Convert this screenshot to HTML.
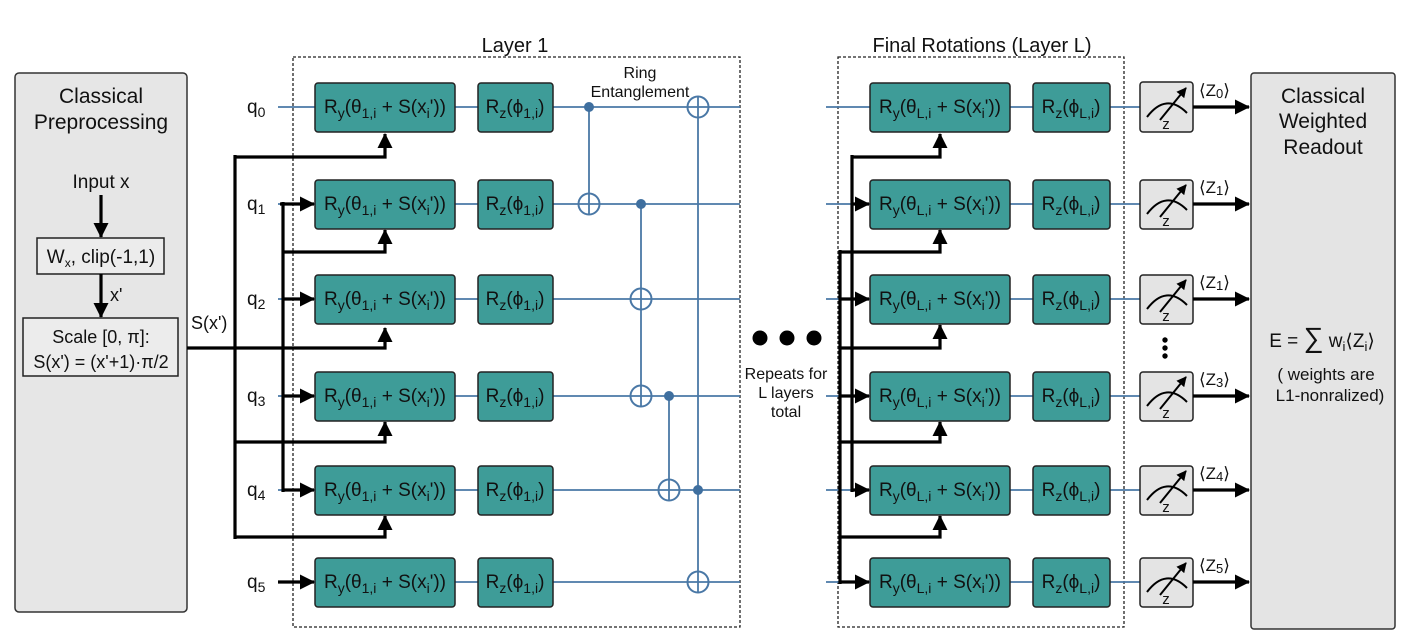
<!DOCTYPE html>
<html><head><meta charset="utf-8"><style>
html,body{margin:0;padding:0;background:#fff}
svg{display:block}
text{font-family:"Liberation Sans",sans-serif;fill:#111}
.ry{fill:#3e9c98;stroke:#222;stroke-width:1.5}
.w{stroke:#4a78a6;stroke-width:1.8;fill:none}
.b{stroke:#000;stroke-width:3.2;fill:none}
.t{fill:none;stroke:#4a78a6;stroke-width:2}
.g{font-size:19px}
.m{fill:#e4e4e4;stroke:#222;stroke-width:1.5}
</style></head><body>
<svg width="1408" height="642" viewBox="0 0 1408 642" xmlns="http://www.w3.org/2000/svg">
<defs>
<marker id="ah" markerWidth="10" markerHeight="10" refX="9" refY="5" orient="auto" markerUnits="userSpaceOnUse" viewBox="0 0 10 10"><path d="M0,0 L10,5 L0,10 z" fill="#000"/></marker>
<marker id="ah2" markerWidth="15" markerHeight="15" refX="14" refY="7.5" orient="auto" markerUnits="userSpaceOnUse" viewBox="0 0 15 15"><path d="M0,0 L15,7.5 L0,15 z" fill="#000"/></marker>
</defs>

<!-- left panel -->
<rect x="15" y="73" width="172" height="539" rx="4" fill="#e6e6e6" stroke="#333" stroke-width="1.5"/>
<text x="101" y="103" font-size="21" text-anchor="middle">Classical</text>
<text x="101" y="129" font-size="21" text-anchor="middle">Preprocessing</text>
<text x="101" y="188" font-size="19" text-anchor="middle">Input x</text>
<line x1="101" y1="195" x2="101" y2="237" class="b" marker-end="url(#ah2)"/>
<rect x="37" y="238" width="127" height="36" fill="#ececec" stroke="#222" stroke-width="1.5"/>
<text x="101" y="263" font-size="19" text-anchor="middle">W<tspan font-size="12" dy="4">x</tspan><tspan dy="-4">, clip(-1,1)</tspan></text>
<line x1="101" y1="274" x2="101" y2="317" class="b" marker-end="url(#ah2)"/>
<text x="110" y="301" font-size="18">x'</text>
<rect x="23" y="318" width="155" height="58" fill="#ececec" stroke="#222" stroke-width="1.5"/>
<text x="101" y="343" font-size="18" text-anchor="middle">Scale [0, π]:</text>
<text x="101" y="368" font-size="18" text-anchor="middle">S(x') = (x'+1)·π/2</text>
<text x="191" y="329" font-size="18">S(x')</text>

<!-- dashed boxes -->
<rect x="293" y="57" width="447" height="570" fill="none" stroke="#222" stroke-width="1.3" stroke-dasharray="3,2"/>
<rect x="838" y="57" width="286" height="570" fill="none" stroke="#222" stroke-width="1.3" stroke-dasharray="3,2"/>
<text x="515" y="52" font-size="20" text-anchor="middle">Layer 1</text>
<text x="982" y="52" font-size="20" text-anchor="middle">Final Rotations (Layer L)</text>
<text x="640" y="78" font-size="16" text-anchor="middle">Ring</text>
<text x="640" y="97" font-size="16" text-anchor="middle">Entanglement</text>

<!-- wires -->
<line x1="278" y1="107" x2="740" y2="107" class="w"/>
<line x1="278" y1="204" x2="740" y2="204" class="w"/>
<line x1="278" y1="299" x2="740" y2="299" class="w"/>
<line x1="278" y1="396" x2="740" y2="396" class="w"/>
<line x1="278" y1="490" x2="740" y2="490" class="w"/>
<line x1="278" y1="582" x2="740" y2="582" class="w"/>
<line x1="826" y1="107" x2="1140" y2="107" class="w"/>
<line x1="826" y1="204" x2="1140" y2="204" class="w"/>
<line x1="826" y1="299" x2="1140" y2="299" class="w"/>
<line x1="826" y1="396" x2="1140" y2="396" class="w"/>
<line x1="826" y1="490" x2="1140" y2="490" class="w"/>
<line x1="826" y1="582" x2="1140" y2="582" class="w"/>

<!-- qubit labels -->
<g font-size="19">
<text x="247" y="113">q<tspan font-size="14" dy="4">0</tspan></text>
<text x="247" y="210">q<tspan font-size="14" dy="4">1</tspan></text>
<text x="247" y="305">q<tspan font-size="14" dy="4">2</tspan></text>
<text x="247" y="402">q<tspan font-size="14" dy="4">3</tspan></text>
<text x="247" y="496">q<tspan font-size="14" dy="4">4</tspan></text>
<text x="247" y="588">q<tspan font-size="14" dy="4">5</tspan></text>
</g>

<!-- layer1 classical buses -->
<polyline points="187,348 385,348 385,328" class="b" marker-end="url(#ah2)"/>
<line x1="235" y1="155" x2="235" y2="539" class="b"/>
<polyline points="235,157 385,157 385,134" class="b" marker-end="url(#ah2)"/>
<polyline points="235,442 385,442 385,422" class="b" marker-end="url(#ah2)"/>
<polyline points="235,537 385,537 385,516" class="b" marker-end="url(#ah2)"/>
<line x1="283" y1="202" x2="283" y2="492" class="b"/>
<polyline points="283,252 385,252 385,230" class="b" marker-end="url(#ah2)"/>
<line x1="280" y1="204" x2="314" y2="204" class="b" marker-end="url(#ah2)"/>
<line x1="283" y1="299" x2="314" y2="299" class="b" marker-end="url(#ah2)"/>
<line x1="283" y1="396" x2="314" y2="396" class="b" marker-end="url(#ah2)"/>
<line x1="283" y1="490" x2="314" y2="490" class="b" marker-end="url(#ah2)"/>
<line x1="278" y1="582" x2="314" y2="582" class="b" marker-end="url(#ah2)"/>

<!-- final layer buses -->
<line x1="852" y1="155" x2="852" y2="492" class="b"/>
<line x1="840" y1="250" x2="840" y2="584" class="b"/>
<polyline points="852,157 940,157 940,134" class="b" marker-end="url(#ah2)"/>
<polyline points="840,252 940,252 940,230" class="b" marker-end="url(#ah2)"/>
<polyline points="840,348 940,348 940,325" class="b" marker-end="url(#ah2)"/>
<polyline points="840,442 940,442 940,422" class="b" marker-end="url(#ah2)"/>
<polyline points="840,537 940,537 940,516" class="b" marker-end="url(#ah2)"/>
<line x1="852" y1="204" x2="869" y2="204" class="b" marker-end="url(#ah2)"/>
<line x1="840" y1="299" x2="869" y2="299" class="b" marker-end="url(#ah2)"/>
<line x1="840" y1="396" x2="869" y2="396" class="b" marker-end="url(#ah2)"/>
<line x1="852" y1="490" x2="869" y2="490" class="b" marker-end="url(#ah2)"/>
<line x1="840" y1="582" x2="869" y2="582" class="b" marker-end="url(#ah2)"/>

<g class="g">
<rect class="ry" x="315" y="83" width="140" height="49" rx="3"/>
<rect class="ry" x="315" y="180" width="140" height="49" rx="3"/>
<rect class="ry" x="315" y="275" width="140" height="49" rx="3"/>
<rect class="ry" x="315" y="372" width="140" height="49" rx="3"/>
<rect class="ry" x="315" y="466" width="140" height="49" rx="3"/>
<rect class="ry" x="315" y="558" width="140" height="49" rx="3"/>
<rect class="ry" x="478" y="83" width="75" height="49" rx="3"/>
<rect class="ry" x="478" y="180" width="75" height="49" rx="3"/>
<rect class="ry" x="478" y="275" width="75" height="49" rx="3"/>
<rect class="ry" x="478" y="372" width="75" height="49" rx="3"/>
<rect class="ry" x="478" y="466" width="75" height="49" rx="3"/>
<rect class="ry" x="478" y="558" width="75" height="49" rx="3"/>
<rect class="ry" x="870" y="83" width="140" height="49" rx="3"/>
<rect class="ry" x="870" y="180" width="140" height="49" rx="3"/>
<rect class="ry" x="870" y="275" width="140" height="49" rx="3"/>
<rect class="ry" x="870" y="372" width="140" height="49" rx="3"/>
<rect class="ry" x="870" y="466" width="140" height="49" rx="3"/>
<rect class="ry" x="870" y="558" width="140" height="49" rx="3"/>
<rect class="ry" x="1033" y="83" width="77" height="49" rx="3"/>
<rect class="ry" x="1033" y="180" width="77" height="49" rx="3"/>
<rect class="ry" x="1033" y="275" width="77" height="49" rx="3"/>
<rect class="ry" x="1033" y="372" width="77" height="49" rx="3"/>
<rect class="ry" x="1033" y="466" width="77" height="49" rx="3"/>
<rect class="ry" x="1033" y="558" width="77" height="49" rx="3"/>

<text x="385" y="113" text-anchor="middle">R<tspan font-size="14" dy="5">y</tspan><tspan dy="-5">(θ</tspan><tspan font-size="14" dy="5">1,i</tspan><tspan dy="-5"> + S(x</tspan><tspan font-size="14" dy="5">i</tspan><tspan dy="-5">'))</tspan></text>
<text x="385" y="210" text-anchor="middle">R<tspan font-size="14" dy="5">y</tspan><tspan dy="-5">(θ</tspan><tspan font-size="14" dy="5">1,i</tspan><tspan dy="-5"> + S(x</tspan><tspan font-size="14" dy="5">i</tspan><tspan dy="-5">'))</tspan></text>
<text x="385" y="305" text-anchor="middle">R<tspan font-size="14" dy="5">y</tspan><tspan dy="-5">(θ</tspan><tspan font-size="14" dy="5">1,i</tspan><tspan dy="-5"> + S(x</tspan><tspan font-size="14" dy="5">i</tspan><tspan dy="-5">'))</tspan></text>
<text x="385" y="402" text-anchor="middle">R<tspan font-size="14" dy="5">y</tspan><tspan dy="-5">(θ</tspan><tspan font-size="14" dy="5">1,i</tspan><tspan dy="-5"> + S(x</tspan><tspan font-size="14" dy="5">i</tspan><tspan dy="-5">'))</tspan></text>
<text x="385" y="496" text-anchor="middle">R<tspan font-size="14" dy="5">y</tspan><tspan dy="-5">(θ</tspan><tspan font-size="14" dy="5">1,i</tspan><tspan dy="-5"> + S(x</tspan><tspan font-size="14" dy="5">i</tspan><tspan dy="-5">'))</tspan></text>
<text x="385" y="588" text-anchor="middle">R<tspan font-size="14" dy="5">y</tspan><tspan dy="-5">(θ</tspan><tspan font-size="14" dy="5">1,i</tspan><tspan dy="-5"> + S(x</tspan><tspan font-size="14" dy="5">i</tspan><tspan dy="-5">'))</tspan></text>

<text x="515" y="113" text-anchor="middle">R<tspan font-size="14" dy="5">z</tspan><tspan dy="-5">(ϕ</tspan><tspan font-size="14" dy="5">1,i</tspan><tspan dy="-5">)</tspan></text>
<text x="515" y="210" text-anchor="middle">R<tspan font-size="14" dy="5">z</tspan><tspan dy="-5">(ϕ</tspan><tspan font-size="14" dy="5">1,i</tspan><tspan dy="-5">)</tspan></text>
<text x="515" y="305" text-anchor="middle">R<tspan font-size="14" dy="5">z</tspan><tspan dy="-5">(ϕ</tspan><tspan font-size="14" dy="5">1,i</tspan><tspan dy="-5">)</tspan></text>
<text x="515" y="402" text-anchor="middle">R<tspan font-size="14" dy="5">z</tspan><tspan dy="-5">(ϕ</tspan><tspan font-size="14" dy="5">1,i</tspan><tspan dy="-5">)</tspan></text>
<text x="515" y="496" text-anchor="middle">R<tspan font-size="14" dy="5">z</tspan><tspan dy="-5">(ϕ</tspan><tspan font-size="14" dy="5">1,i</tspan><tspan dy="-5">)</tspan></text>
<text x="515" y="588" text-anchor="middle">R<tspan font-size="14" dy="5">z</tspan><tspan dy="-5">(ϕ</tspan><tspan font-size="14" dy="5">1,i</tspan><tspan dy="-5">)</tspan></text>

<text x="940" y="113" text-anchor="middle">R<tspan font-size="14" dy="5">y</tspan><tspan dy="-5">(θ</tspan><tspan font-size="14" dy="5">L,i</tspan><tspan dy="-5"> + S(x</tspan><tspan font-size="14" dy="5">i</tspan><tspan dy="-5">'))</tspan></text>
<text x="940" y="210" text-anchor="middle">R<tspan font-size="14" dy="5">y</tspan><tspan dy="-5">(θ</tspan><tspan font-size="14" dy="5">L,i</tspan><tspan dy="-5"> + S(x</tspan><tspan font-size="14" dy="5">i</tspan><tspan dy="-5">'))</tspan></text>
<text x="940" y="305" text-anchor="middle">R<tspan font-size="14" dy="5">y</tspan><tspan dy="-5">(θ</tspan><tspan font-size="14" dy="5">L,i</tspan><tspan dy="-5"> + S(x</tspan><tspan font-size="14" dy="5">i</tspan><tspan dy="-5">'))</tspan></text>
<text x="940" y="402" text-anchor="middle">R<tspan font-size="14" dy="5">y</tspan><tspan dy="-5">(θ</tspan><tspan font-size="14" dy="5">L,i</tspan><tspan dy="-5"> + S(x</tspan><tspan font-size="14" dy="5">i</tspan><tspan dy="-5">'))</tspan></text>
<text x="940" y="496" text-anchor="middle">R<tspan font-size="14" dy="5">y</tspan><tspan dy="-5">(θ</tspan><tspan font-size="14" dy="5">L,i</tspan><tspan dy="-5"> + S(x</tspan><tspan font-size="14" dy="5">i</tspan><tspan dy="-5">'))</tspan></text>
<text x="940" y="588" text-anchor="middle">R<tspan font-size="14" dy="5">y</tspan><tspan dy="-5">(θ</tspan><tspan font-size="14" dy="5">L,i</tspan><tspan dy="-5"> + S(x</tspan><tspan font-size="14" dy="5">i</tspan><tspan dy="-5">'))</tspan></text>

<text x="1071" y="113" text-anchor="middle">R<tspan font-size="14" dy="5">z</tspan><tspan dy="-5">(ϕ</tspan><tspan font-size="14" dy="5">L,i</tspan><tspan dy="-5">)</tspan></text>
<text x="1071" y="210" text-anchor="middle">R<tspan font-size="14" dy="5">z</tspan><tspan dy="-5">(ϕ</tspan><tspan font-size="14" dy="5">L,i</tspan><tspan dy="-5">)</tspan></text>
<text x="1071" y="305" text-anchor="middle">R<tspan font-size="14" dy="5">z</tspan><tspan dy="-5">(ϕ</tspan><tspan font-size="14" dy="5">L,i</tspan><tspan dy="-5">)</tspan></text>
<text x="1071" y="402" text-anchor="middle">R<tspan font-size="14" dy="5">z</tspan><tspan dy="-5">(ϕ</tspan><tspan font-size="14" dy="5">L,i</tspan><tspan dy="-5">)</tspan></text>
<text x="1071" y="496" text-anchor="middle">R<tspan font-size="14" dy="5">z</tspan><tspan dy="-5">(ϕ</tspan><tspan font-size="14" dy="5">L,i</tspan><tspan dy="-5">)</tspan></text>
<text x="1071" y="588" text-anchor="middle">R<tspan font-size="14" dy="5">z</tspan><tspan dy="-5">(ϕ</tspan><tspan font-size="14" dy="5">L,i</tspan><tspan dy="-5">)</tspan></text>
</g>

<!-- entanglement -->
<line x1="589" y1="107" x2="589" y2="214" class="w"/>
<circle cx="589" cy="107" r="5" fill="#3f6f9f"/>
<circle cx="589" cy="204" r="10.5" class="t"/>
<line x1="641" y1="204" x2="641" y2="406" class="w"/>
<circle cx="641" cy="204" r="5" fill="#3f6f9f"/>
<circle cx="641" cy="299" r="10.5" class="t"/>
<circle cx="641" cy="396" r="10.5" class="t"/>
<line x1="669" y1="396" x2="669" y2="500" class="w"/>
<circle cx="669" cy="396" r="5" fill="#3f6f9f"/>
<circle cx="669" cy="490" r="10.5" class="t"/>
<line x1="698" y1="96" x2="698" y2="593" class="w"/>
<circle cx="698" cy="107" r="10.5" class="t"/>
<circle cx="698" cy="490" r="5" fill="#3f6f9f"/>
<circle cx="698" cy="582" r="10.5" class="t"/>

<!-- dots -->
<circle cx="760" cy="338" r="7.5" fill="#000"/>
<circle cx="787" cy="338" r="7.5" fill="#000"/>
<circle cx="814" cy="338" r="7.5" fill="#000"/>
<text x="786" y="379" font-size="16" text-anchor="middle">Repeats for</text>
<text x="786" y="398" font-size="16" text-anchor="middle">L layers</text>
<text x="786" y="417" font-size="16" text-anchor="middle">total</text>

<!-- measurements -->
<rect class="m" x="1140" y="82" width="53" height="50" rx="3"/>
<rect class="m" x="1140" y="180" width="53" height="49" rx="3"/>
<rect class="m" x="1140" y="275" width="53" height="49" rx="3"/>
<rect class="m" x="1140" y="372" width="53" height="49" rx="3"/>
<rect class="m" x="1140" y="466" width="53" height="49" rx="3"/>
<rect class="m" x="1140" y="558" width="53" height="49" rx="3"/>
<g stroke="#000" stroke-width="2" fill="none">
<path d="M1147,117 Q1166,92 1187,113"/><line x1="1160" y1="120" x2="1186" y2="88" marker-end="url(#ah)"/>
<path d="M1147,214 Q1166,189 1187,210"/><line x1="1160" y1="217" x2="1186" y2="185" marker-end="url(#ah)"/>
<path d="M1147,309 Q1166,284 1187,305"/><line x1="1160" y1="312" x2="1186" y2="280" marker-end="url(#ah)"/>
<path d="M1147,406 Q1166,381 1187,402"/><line x1="1160" y1="409" x2="1186" y2="377" marker-end="url(#ah)"/>
<path d="M1147,500 Q1166,475 1187,496"/><line x1="1160" y1="503" x2="1186" y2="471" marker-end="url(#ah)"/>
<path d="M1147,592 Q1166,567 1187,588"/><line x1="1160" y1="595" x2="1186" y2="563" marker-end="url(#ah)"/>
</g>
<g font-size="15" text-anchor="middle">
<text x="1166" y="129">z</text><text x="1166" y="226">z</text><text x="1166" y="321">z</text>
<text x="1166" y="418">z</text><text x="1166" y="512">z</text><text x="1166" y="604">z</text>
</g>
<line x1="1193" y1="107" x2="1249" y2="107" class="b" marker-end="url(#ah2)"/>
<line x1="1193" y1="204" x2="1249" y2="204" class="b" marker-end="url(#ah2)"/>
<line x1="1193" y1="299" x2="1249" y2="299" class="b" marker-end="url(#ah2)"/>
<line x1="1193" y1="396" x2="1249" y2="396" class="b" marker-end="url(#ah2)"/>
<line x1="1193" y1="490" x2="1249" y2="490" class="b" marker-end="url(#ah2)"/>
<line x1="1193" y1="582" x2="1249" y2="582" class="b" marker-end="url(#ah2)"/>
<g font-size="17">
<text x="1199" y="96">⟨Z<tspan font-size="13" dy="2">0</tspan><tspan dy="-2">⟩</tspan></text>
<text x="1199" y="193">⟨Z<tspan font-size="13" dy="2">1</tspan><tspan dy="-2">⟩</tspan></text>
<text x="1199" y="288">⟨Z<tspan font-size="13" dy="2">1</tspan><tspan dy="-2">⟩</tspan></text>
<text x="1199" y="385">⟨Z<tspan font-size="13" dy="2">3</tspan><tspan dy="-2">⟩</tspan></text>
<text x="1199" y="479">⟨Z<tspan font-size="13" dy="2">4</tspan><tspan dy="-2">⟩</tspan></text>
<text x="1199" y="571">⟨Z<tspan font-size="13" dy="2">5</tspan><tspan dy="-2">⟩</tspan></text>
</g>
<circle cx="1165" cy="340" r="2.7" fill="#000"/><circle cx="1165" cy="348" r="2.7" fill="#000"/><circle cx="1165" cy="356" r="2.7" fill="#000"/>

<!-- right panel -->
<rect x="1251" y="73" width="144" height="556" rx="3" fill="#e4e4e4" stroke="#333" stroke-width="1.5"/>
<text x="1323" y="103" font-size="21" text-anchor="middle">Classical</text>
<text x="1323" y="128" font-size="21" text-anchor="middle">Weighted</text>
<text x="1323" y="154" font-size="21" text-anchor="middle">Readout</text>
<text x="1322" y="347" font-size="19" text-anchor="middle">E = <tspan font-size="28">∑</tspan> w<tspan font-size="13" dy="4">i</tspan><tspan dy="-4">⟨Z</tspan><tspan font-size="13" dy="4">i</tspan><tspan dy="-4">⟩</tspan></text>
<text x="1326" y="380" font-size="17" text-anchor="middle">( weights  are</text>
<text x="1330" y="401" font-size="17" text-anchor="middle">L1-nonralized)</text>
</svg>
</body></html>
